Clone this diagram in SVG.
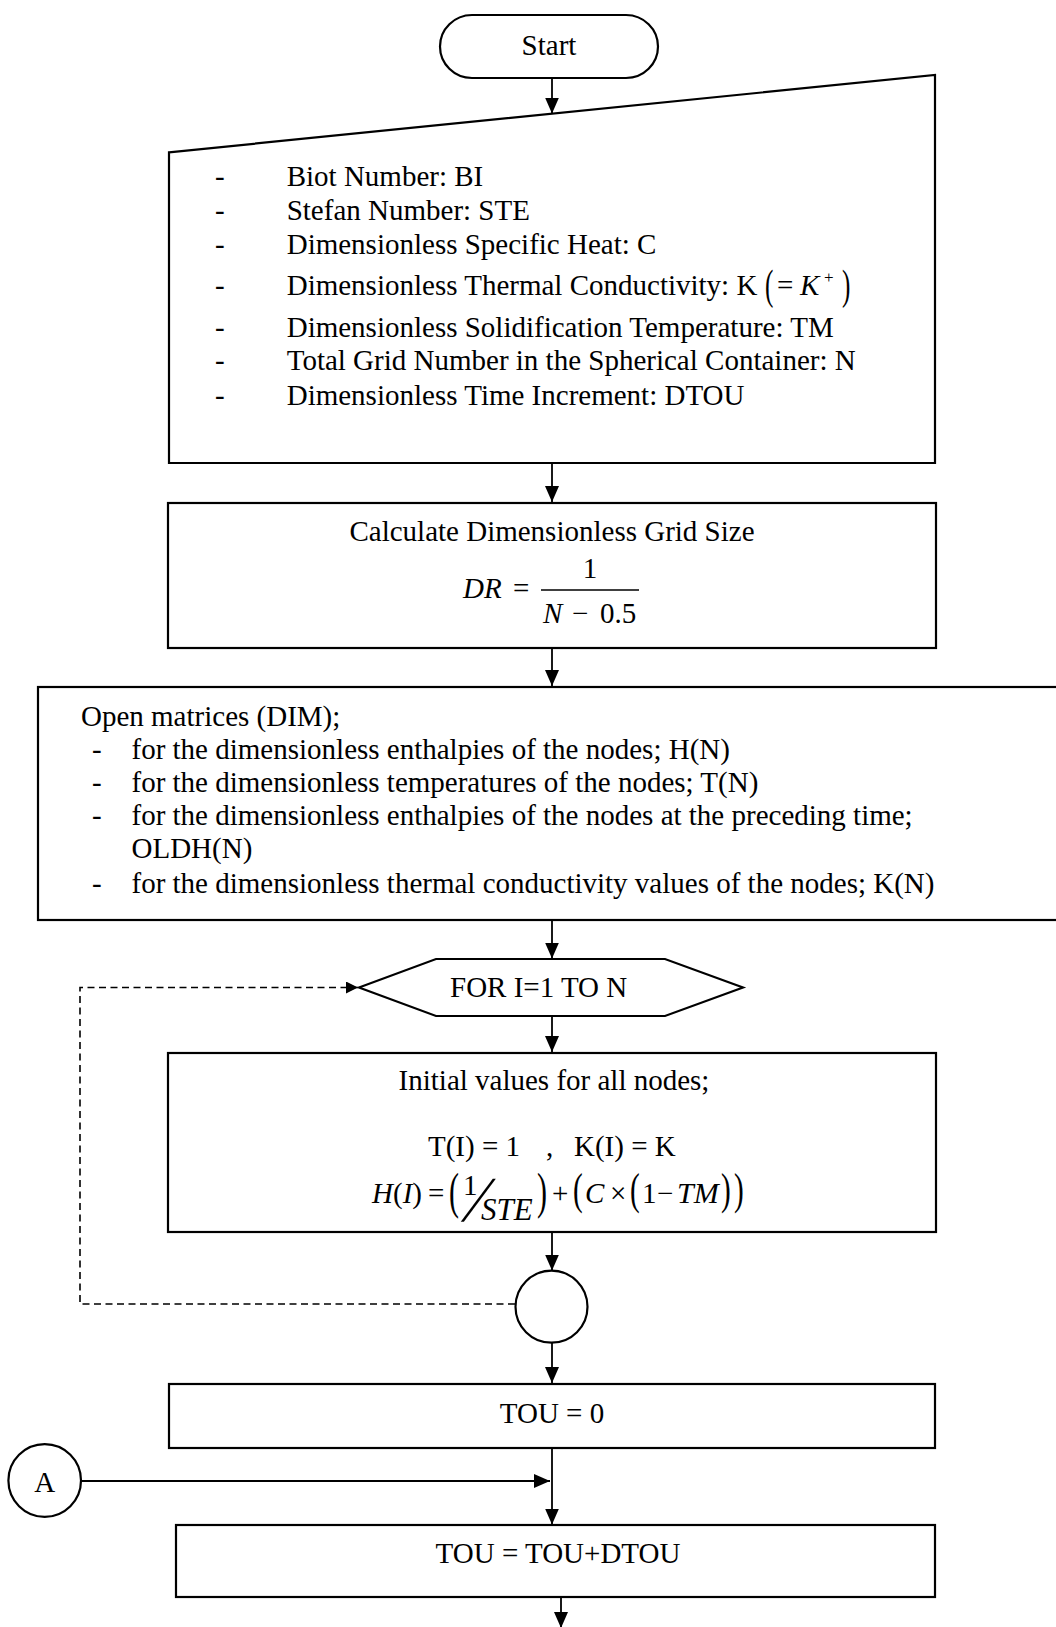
<svg xmlns="http://www.w3.org/2000/svg" width="1056" height="1627" viewBox="0 0 1056 1627">
<style>
text{font-family:"Liberation Serif","Times New Roman",serif;font-size:29px;fill:#000}
.i{font-style:italic}
.box{fill:#fff;stroke:#000;stroke-width:2.2}
.ln{fill:none;stroke:#000;stroke-width:1.8}
.dash{fill:none;stroke:#000;stroke-width:1.6;stroke-dasharray:7 4.5}
.c{text-anchor:middle}
</style>
<defs>
<marker id="ah" markerWidth="16" markerHeight="14" refX="16" refY="7" orient="auto" markerUnits="userSpaceOnUse"><path d="M0,0 L16,7 L0,14 z" fill="#000"/></marker>
<marker id="ahs" markerWidth="12" markerHeight="12" refX="12" refY="6" orient="auto" markerUnits="userSpaceOnUse"><path d="M0,0 L12,6 L0,12 z" fill="#000"/></marker>
</defs>
<rect width="1056" height="1627" fill="#fff"/>

<g id="connectors">
<line class="ln" x1="552" y1="78" x2="552" y2="113.5" marker-end="url(#ah)"/>
<line class="ln" x1="552" y1="463" x2="552" y2="502" marker-end="url(#ah)"/>
<line class="ln" x1="552" y1="648" x2="552" y2="686" marker-end="url(#ah)"/>
<line class="ln" x1="552" y1="920" x2="552" y2="958.5" marker-end="url(#ah)"/>
<line class="ln" x1="552" y1="1016" x2="552" y2="1052" marker-end="url(#ah)"/>
<line class="ln" x1="552" y1="1232" x2="552" y2="1270.5" marker-end="url(#ah)"/>
<line class="ln" x1="552" y1="1343" x2="552" y2="1383" marker-end="url(#ah)"/>
<line class="ln" x1="552" y1="1448" x2="552" y2="1524.5" marker-end="url(#ah)"/>
<line class="ln" x1="81" y1="1481" x2="550" y2="1481" marker-end="url(#ah)"/>
<line class="ln" x1="561" y1="1597" x2="561" y2="1628" marker-end="url(#ah)"/>
<polyline class="dash" points="515,1304 80,1304 80,987.5 358,987.5" marker-end="url(#ahs)"/>
</g>

<g id="start">
<rect class="box" x="440" y="15" width="218" height="63" rx="32" ry="31.5"/>
<text class="c" x="549" y="55">Start</text>
</g>

<g id="input">
<polygon class="box" points="169,152.3 935,75 935,463 169,463"/>
<text x="215" y="186">-</text><text x="286.7" y="186">Biot Number: BI</text>
<text x="215" y="220">-</text><text x="286.7" y="220">Stefan Number: STE</text>
<text x="215" y="253.5">-</text><text x="286.7" y="253.5">Dimensionless Specific Heat: C</text>
<text x="215" y="295">-</text><text x="286.7" y="295">Dimensionless Thermal Conductivity: K</text>
<text transform="translate(765,298.5) scale(0.6,1)" style="font-size:42px">(</text>
<text x="777" y="295">=</text>
<text class="i" x="800" y="295">K</text>
<text x="824" y="283" style="font-size:17px">+</text>
<text transform="translate(842,298.5) scale(0.6,1)" style="font-size:42px">)</text>
<text x="215" y="336.5">-</text><text x="286.7" y="336.5">Dimensionless Solidification Temperature: TM</text>
<text x="215" y="370">-</text><text x="286.7" y="370">Total Grid Number in the Spherical Container: N</text>
<text x="215" y="405">-</text><text x="286.7" y="405">Dimensionless Time Increment: DTOU</text>
</g>

<g id="gridsize">
<rect class="box" x="168" y="503" width="768" height="145"/>
<text class="c" x="552" y="541">Calculate Dimensionless Grid Size</text>
<text class="i" x="463" y="598">DR</text>
<text x="513" y="598">=</text>
<line x1="541" y1="590" x2="639" y2="590" stroke="#000" stroke-width="1.5"/>
<text class="c" x="590" y="578">1</text>
<text class="i" x="543" y="623">N</text>
<text x="572" y="623">−</text>
<text x="600" y="623">0.5</text>
</g>

<g id="matrices">
<rect class="box" x="38" y="687" width="1030" height="233"/>
<text x="81" y="726">Open matrices (DIM);</text>
<text x="92" y="759">-</text><text x="131.5" y="759">for the dimensionless enthalpies of the nodes; H(N)</text>
<text x="92" y="792">-</text><text x="131.5" y="792">for the dimensionless temperatures of the nodes; T(N)</text>
<text x="92" y="825">-</text><text x="131.5" y="825">for the dimensionless enthalpies of the nodes at the preceding time;</text>
<text x="131.5" y="858">OLDH(N)</text>
<text x="92" y="893">-</text><text x="131.5" y="893">for the dimensionless thermal conductivity values of the nodes; K(N)</text>
</g>

<g id="forloop">
<polygon class="box" points="359,987.5 436,959 665,959 743,987.5 665,1016 436,1016"/>
<text x="450" y="997">FOR I=1 TO N</text>
</g>

<g id="initial">
<rect class="box" x="168" y="1053" width="768" height="179"/>
<text class="c" x="554" y="1090">Initial values for all nodes;</text>
<text x="428" y="1155.5">T(I) = 1</text>
<text x="546" y="1155.5">,</text>
<text x="574" y="1155.5">K(I) = K</text>
<text x="372" y="1203"><tspan class="i">H</tspan>(<tspan class="i">I</tspan>)</text>
<text x="428" y="1203">=</text>
<text transform="translate(449,1208) scale(0.6,1)" style="font-size:50px">(</text>
<text x="463" y="1195">1</text>
<text transform="translate(461,1221) skewX(-22)" style="font-size:64px">/</text>
<text class="i" x="481" y="1220" style="font-size:31px">STE</text>
<text transform="translate(537,1208) scale(0.6,1)" style="font-size:50px">)</text>
<text x="552" y="1203">+</text>
<text transform="translate(573,1204) scale(0.65,1)" style="font-size:45px">(</text>
<text class="i" x="585" y="1203">C</text>
<text x="610" y="1203">×</text>
<text transform="translate(630,1204) scale(0.65,1)" style="font-size:45px">(</text>
<text x="642" y="1203">1</text>
<text x="657" y="1203">−</text>
<text class="i" x="677" y="1203" style="font-size:30px">TM</text>
<text transform="translate(721,1204) scale(0.65,1)" style="font-size:45px">)</text>
<text transform="translate(734,1204) scale(0.65,1)" style="font-size:45px">)</text>
</g>

<g id="loopend">
<circle class="box" cx="551.5" cy="1306.7" r="36"/>
</g>

<g id="tou0">
<rect class="box" x="169" y="1384" width="766" height="64"/>
<text class="c" x="552" y="1423">TOU = 0</text>
</g>

<g id="connA">
<circle class="box" cx="44.7" cy="1480.5" r="36.3"/>
<text class="c" x="44.7" y="1492">A</text>
</g>

<g id="touinc">
<rect class="box" x="176" y="1525" width="759" height="72"/>
<text class="c" x="558" y="1563">TOU = TOU+DTOU</text>
</g>
</svg>
